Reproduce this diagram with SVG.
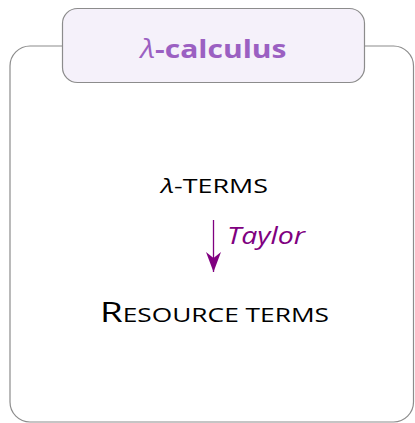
<svg xmlns="http://www.w3.org/2000/svg" width="415" height="423" viewBox="0 0 415 423">
<style>
.frame{fill:#fff;stroke:#8c8c8c;stroke-width:1.2}
.title{fill:#f5f1fa;stroke:#8c8c8c;stroke-width:1.2}
.tt{font-family:"Open Sans","Noto Sans",sans-serif;font-weight:bold;font-size:25px;fill:#9b60c2}
.sc{font-family:"Open Sans","Noto Sans",sans-serif;font-weight:500;font-size:20px;fill:#000}
.big{font-size:28px}
.lab{font-family:"Open Sans","Noto Sans",sans-serif;font-style:italic;font-weight:500;font-size:24px;fill:#800080}
</style>
<defs>
<marker id="ah" viewBox="0 0 20 16" refX="20" refY="8" markerWidth="20" markerHeight="16" orient="auto" markerUnits="userSpaceOnUse">
<path d="M0,0.5 L20,8 L0,15.5 L6,8 Z" fill="#800080"/>
</marker>
</defs>
<g id="frame">
<rect class="frame" x="10" y="46" width="403.5" height="376" rx="20"/>
</g>
<g id="title">
<rect class="title" x="62.5" y="8.5" width="302" height="74" rx="15"/>
<text class="tt" x="213.5" y="58" text-anchor="middle" textLength="146" lengthAdjust="spacingAndGlyphs"><tspan font-style="italic" font-weight="normal">λ</tspan>-calculus</text>
</g>
<g id="lambda-terms">
<text class="sc" x="161" y="193" textLength="107" lengthAdjust="spacingAndGlyphs"><tspan font-style="italic">λ</tspan>-TERMS</text>
</g>
<g id="resource-terms">
<text class="sc" x="100" y="322" textLength="229" lengthAdjust="spacingAndGlyphs"><tspan class="big">R</tspan>ESOURCE TERMS</text>
</g>
<g id="connectors">
<line x1="213.5" y1="220" x2="213.5" y2="272" stroke="#800080" stroke-width="1.3" marker-end="url(#ah)"/>
<text class="lab" x="227" y="244" textLength="78" lengthAdjust="spacingAndGlyphs">Taylor</text>
</g>
</svg>
